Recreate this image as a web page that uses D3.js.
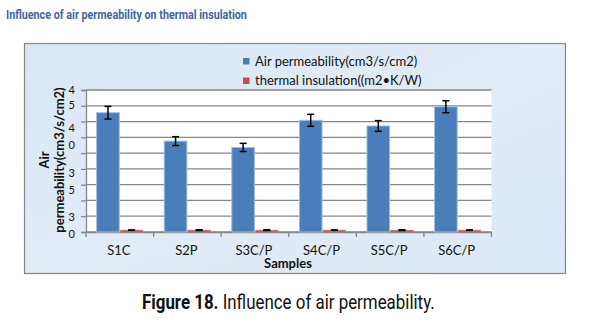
<!DOCTYPE html>
<html><head><meta charset="utf-8">
<script src="https://cdn.jsdelivr.net/npm/d3@7"></script>
<style>body{margin:0;background:#fff}svg{display:block}</style>
</head><body><svg id="c" width="591" height="327"></svg>
<script>
// ---- data ----
const categories = ["S1C", "S2P", "S3C/P", "S4C/P", "S5C/P", "S6C/P"];
const seriesNames = ["Air permeability(cm3/s/cm2)", "thermal insulation((m2•K/W)"];
const airPermeability = [378, 288, 268, 354, 336, 397];
const airPermeabilityErr = [20, 14, 13, 19, 17, 19];
const thermalInsulation = [6, 6, 6, 6, 6, 6];
const thermalInsulationErr = [0.3, 1, 1, 0.3, 1, 0.3];
const gridValues = [0, 50, 100, 150, 200, 250, 300, 350, 400, 450];
const yTickLabels = ["4", "5", "4", "0", "3", "5", "3", "0"];
const yTickLabelValues = [451, 404, 329, 276, 186, 133, 49, -6];
const titleText = "Influence of air permeability on thermal insulation";
const captionBold = "Figure 18.";
const captionRest = " Influence of air permeability.";
const xTitle = "Samples";
const yTitleLines = ["Air", "permeability(cm3/s/cm2)"];

const colors = ["#4a7ebb", "#c0504d"];
const strokes = ["#a3bde0", "#d98886"];

const svg = d3.select("#c");
const font = "Lato, 'Open Sans', sans-serif";

// page title
const t = svg.append("text").attr("x", 0).attr("y", 0)
  .attr("font-family", "Roboto, sans-serif").attr("font-weight", 700)
  .attr("font-size", 12.5).attr("fill", "#45649f").text(titleText);
{
  const w = t.node().getBBox().width;
  t.attr("transform", `translate(6,19) scale(${241 / w},1)`);
}

// chart area
const defs = svg.append("defs");
const g = defs.append("linearGradient").attr("id", "bg").attr("x1", 0).attr("y1", 0).attr("x2", 1).attr("y2", 1);
g.append("stop").attr("offset", 0).attr("stop-color", "#d9e6f4");
g.append("stop").attr("offset", 0.5).attr("stop-color", "#e2ecf7");
g.append("stop").attr("offset", 1).attr("stop-color", "#dbe8f5");
svg.append("rect").attr("x", 24.5).attr("y", 43.5).attr("width", 541).attr("height", 230)
  .attr("fill", "url(#bg)").attr("stroke", "#878787").attr("stroke-width", 1.2);

const plot = {left: 86, right: 491.5, top: 90, bottom: 232};
svg.append("rect").attr("x", plot.left).attr("y", plot.top)
  .attr("width", plot.right - plot.left).attr("height", plot.bottom - plot.top).attr("fill", "#fff");

const x = d3.scaleBand().domain(categories).range([plot.left, plot.right])
  .paddingInner(0.3).paddingOuter(0.15);
const xs = d3.scaleBand().domain([0, 1]).range([0, x.bandwidth()]);
const y = d3.scaleLinear().domain([0, 450]).range([plot.bottom, plot.top]);

// gridlines
svg.append("g").selectAll("line").data(gridValues).join("line")
  .attr("x1", plot.left).attr("x2", plot.right)
  .attr("y1", d => y(d)).attr("y2", d => y(d))
  .attr("stroke", "#878787").attr("stroke-width", 1.3);

// y axis
const ya = svg.append("g").attr("transform", `translate(${plot.left},0)`)
  .call(d3.axisLeft(y).tickValues(gridValues).tickSize(5).tickFormat(""));
ya.selectAll("path,line").attr("stroke", "#878787").attr("stroke-width", 1.3);
svg.append("g").selectAll("text").data(yTickLabels).join("text")
  .attr("x", 75).attr("y", (d, i) => y(yTickLabelValues[i]) + 4)
  .attr("text-anchor", "end").attr("font-family", font).attr("font-size", 11)
  .attr("fill", "#111").text(d => d);

// x axis
const step = x.step();
const xa = svg.append("g").attr("transform", `translate(0,${plot.bottom})`)
  .call(d3.axisBottom(x).tickSize(0).tickFormat(""));
xa.select(".domain").attr("stroke", "#878787").attr("stroke-width", 1.3);
xa.selectAll(".tick").remove();
svg.append("g").selectAll("line").data(d3.range(categories.length + 1)).join("line")
  .attr("x1", i => plot.left + i * step).attr("x2", i => plot.left + i * step)
  .attr("y1", plot.bottom).attr("y2", plot.bottom + 5)
  .attr("stroke", "#878787").attr("stroke-width", 1.3);
svg.append("g").selectAll("text").data(categories).join("text")
  .attr("x", d => x(d) + x.bandwidth() / 2 - 1).attr("y", 255)
  .attr("text-anchor", "middle").attr("font-family", font).attr("font-size", 13)
  .attr("fill", "#111").text(d => d);
svg.append("text").attr("x", 288).attr("y", 268).attr("text-anchor", "middle")
  .attr("font-family", font).attr("font-weight", 700).attr("font-size", 13)
  .attr("fill", "#111").text(xTitle);

// y title
svg.append("g").selectAll("text").data(yTitleLines).join("text")
  .attr("transform", (d, i) => `translate(${i === 0 ? 49 : 63.5},160) rotate(-90)`)
  .attr("text-anchor", "middle").attr("font-family", font).attr("font-weight", 700)
  .attr("font-size", 13).attr("fill", "#111").text(d => d);

// bars
const series = [
  {vals: airPermeability, errs: airPermeabilityErr},
  {vals: thermalInsulation, errs: thermalInsulationErr}
];
series.forEach((s, si) => {
  const gg = svg.append("g");
  gg.selectAll("rect").data(categories).join("rect")
    .attr("x", (d) => x(d) + xs(si) + 0.5)
    .attr("y", (d, i) => y(s.vals[i]))
    .attr("width", xs.bandwidth() - 1)
    .attr("height", (d, i) => y(0) - y(s.vals[i]))
    .attr("fill", colors[si]).attr("stroke", strokes[si]).attr("stroke-width", si === 0 ? 1 : 0.6);
  const eg = svg.append("g").attr("stroke", "#000").attr("stroke-width", 1.5);
  categories.forEach((c, i) => {
    const cx = x(c) + xs(si) + xs.bandwidth() / 2;
    const hi = y(s.vals[i] + s.errs[i]), lo = y(s.vals[i] - s.errs[i]);
    eg.append("line").attr("x1", cx).attr("x2", cx).attr("y1", hi).attr("y2", lo);
    eg.append("line").attr("x1", cx - 3.5).attr("x2", cx + 3.5).attr("y1", hi).attr("y2", hi);
    eg.append("line").attr("x1", cx - 3.5).attr("x2", cx + 3.5).attr("y1", lo).attr("y2", lo);
  });
});

// legend
const lg = svg.append("g");
seriesNames.forEach((n, i) => {
  lg.append("rect").attr("x", 243).attr("y", 58 + i * 19.5).attr("width", 6.5).attr("height", 6.5)
    .attr("fill", colors[i]);
  lg.append("text").attr("x", 255).attr("y", 65.5 + i * 19.5)
    .attr("font-family", font).attr("font-size", 13).attr("fill", "#111").text(n);
});

// caption
const cap = svg.append("text").attr("x", 0).attr("y", 0)
  .attr("font-family", "Roboto, sans-serif").attr("font-size", 20).attr("fill", "#111");
cap.append("tspan").attr("font-weight", 700).text(captionBold);
cap.append("tspan").text(captionRest);
{
  const w = cap.node().getBBox().width;
  cap.attr("transform", `translate(142,309) scale(${293 / w},1)`);
}
</script></body></html>
